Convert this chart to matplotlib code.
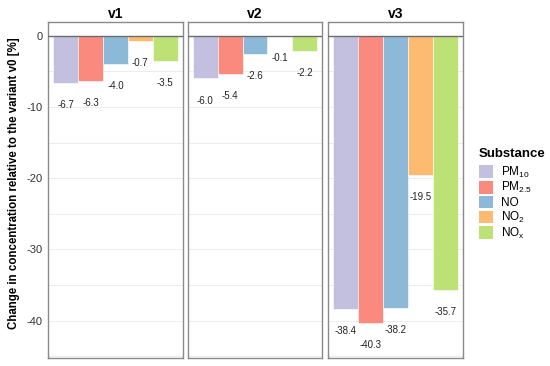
import numpy as np
import matplotlib.pyplot as plt
from matplotlib.patches import Patch

plt.rcParams['font.family'] = ['Liberation Sans', 'DejaVu Sans']
plt.rcParams['axes.unicode_minus'] = False
plt.rcParams['mathtext.fontset'] = 'custom'
plt.rcParams['mathtext.rm'] = 'Liberation Sans'

variants = ['v1', 'v2', 'v3']
substances = ['PM$_{\\mathrm{10}}$', 'PM$_{\\mathrm{2.5}}$', 'NO', 'NO$_{\\mathrm{2}}$', 'NO$_{\\mathrm{x}}$']
v1 = [-6.7, -6.3, -4.0, -0.7, -3.5]
v2 = [-6.0, -5.4, -2.6, -0.1, -2.2]
v3 = [-38.4, -40.3, -38.2, -19.5, -35.7]
values = [v1, v2, v3]
colors = ['#c3bfdf', '#fa8a7e', '#8db9d8', '#fdbb72', '#bce276']

fig = plt.figure(figsize=(5.5, 3.66), dpi=100)
W, H = 550, 366
lefts = [48, 187.5, 328]
pw = 135
top, bottom = 22, 357.7

x = np.arange(1, 6)
for i, (name, vals) in enumerate(zip(variants, values)):
    ax = fig.add_axes([lefts[i]/W, 1-bottom/H, pw/W, (bottom-top)/H])
    ax.bar(x, vals, width=1.0, color=colors, edgecolor='white', lw=0.4, zorder=2)
    ax.axhline(0, color='#6b6b6b', lw=1.0, zorder=3)
    for xi, v in zip(x, vals):
        ax.text(xi, v - 3.1, '%.1f' % v, ha='center', va='center', fontsize=7, color='#222222')
    ax.set_xlim(0.28, 5.72)
    ax.set_ylim(-45.2, 1.92)
    ax.set_yticks([0, -10, -20, -30, -40])
    ax.set_yticks([-5, -15, -25, -35, -45], minor=True)
    ax.grid(axis='y', which='both', color='#ececec', lw=0.7, zorder=0)
    ax.set_xticks([])
    ax.tick_params(axis='y', which='both', length=0, labelsize=8, labelcolor='#333333', pad=4)
    if i > 0:
        ax.set_yticklabels([])
    for s in ax.spines.values():
        s.set_color('#8a8a8a')
        s.set_linewidth(1.0)
    ax.set_title(name, fontsize=10, fontweight='bold', pad=3)

fig.text(14/W, 0.5, 'Change in concentration relative to the variant v0 [%]',
         rotation=90, ha='center', va='center', fontsize=8.3, fontweight='bold')

handles = [Patch(facecolor=c, edgecolor='none') for c in colors]
leg = fig.legend(handles, substances, title='Substance', loc='upper left',
                 bbox_to_anchor=(474/W, 1-143/H), frameon=False, fontsize=8.5,
                 title_fontsize=9.5, handlelength=1.2, handleheight=1.25,
                 labelspacing=0.05, handletextpad=0.7, borderaxespad=0)
leg.get_title().set_fontweight('bold')
leg._legend_box.align = 'left'
leg._legend_box.sep = 3.5

fig.savefig('out.png', dpi=100)
